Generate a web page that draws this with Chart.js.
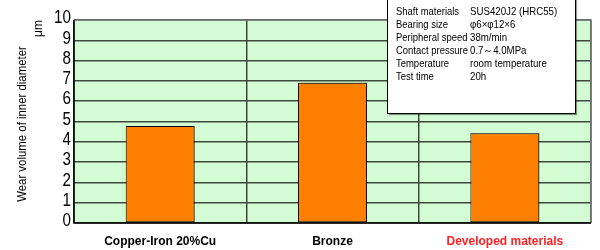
<!DOCTYPE html>
<html>
<head>
<meta charset="utf-8">
<script src="https://cdn.jsdelivr.net/npm/chart.js@4/dist/chart.umd.min.js"></script>
<style>
html,body{margin:0;padding:0;background:#fff;}
#wrap{width:600px;height:250px;position:relative;}
</style>
</head>
<body>
<div id="wrap"><canvas id="c" width="600" height="250"></canvas></div>
<script>
const categories = ["Copper-Iron 20%Cu", "Bronze", "Developed materials"];
const wearValues = [4.78, 6.91, 4.42];
const labelColors = ["#000000", "#000000", "#ff2222"];
const yTicks = [0,1,2,3,4,5,6,7,8,9,10];
const yTitle = "Wear volume of inner diameter";
const yUnit = "μm";
const infoKeys = ["Shaft materials","Bearing size","Peripheral speed","Contact pressure","Temperature","Test time"];
const infoVals = ["SUS420J2 (HRC55)","φ6×φ12×6","38m/min","0.7～4.0MPa","room temperature","20h"];

const FONT = "'Liberation Sans', Arial, sans-serif";

function narrowText(ctx, text, x, y, sx, align) {
  ctx.save();
  ctx.translate(x, y);
  ctx.scale(sx, 1);
  ctx.textAlign = align;
  ctx.fillText(text, 0, 0);
  ctx.restore();
}

const bgPlugin = {
  id: 'bg',
  beforeDraw(chart) {
    const {ctx, chartArea:a} = chart;
    ctx.save();
    ctx.fillStyle = '#d4fcd4';
    ctx.fillRect(a.left, a.top, a.right - a.left, a.bottom - a.top);
    ctx.restore();
  },
  beforeDatasetsDraw(chart) {
    const ctx = chart.ctx;
    ctx.save();
    ctx.shadowColor = 'rgba(0,0,0,0.35)';
    ctx.shadowOffsetX = 2;
    ctx.shadowOffsetY = -1;
    ctx.shadowBlur = 1;
  },
  afterDatasetsDraw(chart) {
    chart.ctx.restore();
  },
  afterDraw(chart) {
    const {ctx, chartArea:a} = chart;
    const ys = chart.scales.y;
    ctx.save();
    // frame
    ctx.strokeStyle = '#777';
    ctx.lineWidth = 1.5;
    ctx.beginPath();
    ctx.moveTo(a.left, a.top); ctx.lineTo(a.right, a.top); ctx.lineTo(a.right, a.bottom);
    ctx.stroke();
    ctx.strokeStyle = '#000';
    ctx.lineWidth = 1.5;
    ctx.beginPath();
    ctx.moveTo(a.left, a.top); ctx.lineTo(a.left, a.bottom); ctx.lineTo(a.right, a.bottom);
    ctx.stroke();
    // y tick labels
    ctx.fillStyle = '#000';
    ctx.font = "19px " + FONT;
    ctx.textBaseline = 'middle';
    yTicks.forEach(v => {
      narrowText(ctx, String(v), 71, ys.getPixelForValue(v) - 2, 0.8, 'right');
    });
    // y title
    ctx.font = "12px " + FONT;
    ctx.textAlign = 'center';
    ctx.textBaseline = 'middle';
    ctx.save();
    ctx.translate(23, 124);
    ctx.rotate(-Math.PI/2);
    ctx.scale(0.95, 1);
    ctx.fillText(yTitle, 0, 0);
    ctx.restore();
    ctx.save();
    ctx.textAlign = 'left';
    ctx.translate(39, 37);
    ctx.rotate(-Math.PI/2);
    ctx.fillText(yUnit, 0, 0);
    ctx.restore();
    ctx.restore();
    // info box
    ctx.save();
    const bx = 387, by = -2, bw = 188, bh = 115;
    ctx.shadowColor = 'rgba(0,0,0,0.4)';
    ctx.shadowOffsetX = 2; ctx.shadowOffsetY = 2; ctx.shadowBlur = 1;
    ctx.fillStyle = '#fff';
    ctx.fillRect(bx, by, bw, bh);
    ctx.shadowColor = 'transparent';
    ctx.strokeStyle = '#000';
    ctx.lineWidth = 1;
    ctx.strokeRect(bx + 0.5, by + 0.5, bw, bh);
    ctx.fillStyle = '#000';
    ctx.font = "11px " + FONT;
    ctx.textBaseline = 'middle';
    infoKeys.forEach((k, i) => {
      const y = 12 + i * 13;
      narrowText(ctx, k, 396, y, 0.86, 'left');
      narrowText(ctx, infoVals[i], 470, y, 0.88, 'left');
    });
    ctx.restore();
  }
};

new Chart(document.getElementById('c'), {
  type: 'bar',
  data: {
    labels: categories,
    datasets: [{
      data: wearValues,
      backgroundColor: '#ff7f00',
      borderColor: '#000',
      borderWidth: 1,
      borderSkipped: false,
      categoryPercentage: 1,
      barPercentage: 0.4
    }]
  },
  options: {
    responsive: false,
    animation: false,
    devicePixelRatio: 1,
    layout: { padding: { left: 0, right: 9, top: 20, bottom: 0 } },
    plugins: { legend: { display: false }, tooltip: { enabled: false } },
    scales: {
      x: {
        offset: true,
        grid: { offset: true, color: '#3c4a3c', lineWidth: 1.5, drawTicks: false },
        border: { display: false },
        ticks: {
          padding: 11,
          color: (c) => labelColors[c.index],
          font: { family: FONT, size: 12, weight: 'bold' }
        },
        afterFit(s) { s.height = 27; }
      },
      y: {
        min: 0, max: 10,
        afterBuildTicks(s) { s.ticks = yTicks.map(v => ({value: v})); },
        grid: { color: '#3c4a3c', lineWidth: 1.5, drawTicks: false },
        border: { display: false },
        ticks: { display: false, autoSkip: false },
        afterFit(s) { s.width = 74; }
      }
    }
  },
  plugins: [bgPlugin]
});
</script>
</body>
</html>
